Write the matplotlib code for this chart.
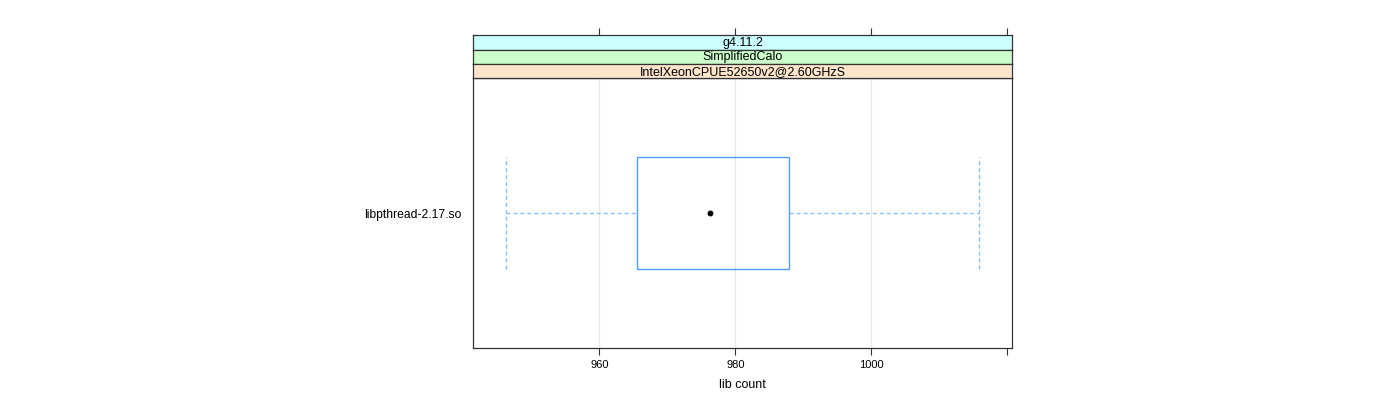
import matplotlib
matplotlib.use("Agg")
import matplotlib.pyplot as plt
from matplotlib.patches import Rectangle

plt.rcParams['font.family'] = ['Liberation Sans', 'DejaVu Sans']

categories = ["libpthread-2.17.so"]
whisker_low = [946.2]
q1 = [965.5]
median = [976.2]
q3 = [987.9]
whisker_high = [1015.8]
strips = ["g4.11.2", "SimplifiedCalo", "IntelXeonCPUE52650v2@2.60GHzS"]
strip_colors = ["#CCFFFF", "#CCFFCC", "#FFE5CC"]
xticks = [960, 980, 1000, 1020]
xticklabels = ["960", "980", "1000", ""]
xlabel = "lib count"

W, H = 1400, 400
fig = plt.figure(figsize=(14, 4), dpi=100)
L, R, T, B = 473, 1012, 78, 348
ax = fig.add_axes([L / W, 1 - B / H, (R - L) / W, (B - T) / H])
ax.set_xlim(941.4, 1020.7)
ax.set_ylim(0.4, 1.6)

box_col = "#4da0f5"
wh_col = "#8ec4f4"
hw = 0.25
for i, c in enumerate(categories):
    y = i + 1
    ax.add_patch(Rectangle((q1[i], y - hw), q3[i] - q1[i], 2 * hw, fill=False,
                           edgecolor=box_col, linewidth=1.0, zorder=3))
    ax.plot([whisker_low[i], q1[i]], [y, y], ls=(0, (3, 2)), color=wh_col, lw=1.0, zorder=2)
    ax.plot([q3[i], whisker_high[i]], [y, y], ls=(0, (3, 2)), color=wh_col, lw=1.0, zorder=2)
    ax.plot([whisker_low[i]] * 2, [y - hw, y + hw], ls=(0, (3, 2)), color=wh_col, lw=1.0, zorder=2)
    ax.plot([whisker_high[i]] * 2, [y - hw, y + hw], ls=(0, (3, 2)), color=wh_col, lw=1.0, zorder=2)
    ax.plot([median[i]], [y], 'o', color='black', markersize=3.2, zorder=4)

for xv in xticks[:3]:
    ax.axvline(xv, color="#e6e6e6", lw=0.8, zorder=1)

ax.set_yticks([i + 1 for i in range(len(categories))])
ax.set_yticklabels(categories, fontsize=8.7)
ax.set_xticks(xticks)
ax.set_xticklabels(xticklabels, fontsize=8)
ax.tick_params(axis='x', which='both', top=False, bottom=True, direction='out', length=5,
               color='#333333', pad=4)
ax.tick_params(axis='y', length=0, pad=8)
ax.set_xlabel(xlabel, fontsize=9, labelpad=6)
for s in ax.spines.values():
    s.set_color('#333333')
    s.set_linewidth(0.9)

# strips
strip_edges = [35, 49.5, 64, 78]
for k, (txt, col) in enumerate(zip(strips, strip_colors)):
    top, bot = strip_edges[k], strip_edges[k + 1]
    sax = fig.add_axes([L / W, 1 - bot / H, (R - L) / W, (bot - top) / H])
    sax.set_facecolor(col)
    sax.set_xticks([])
    sax.set_yticks([])
    for s in sax.spines.values():
        s.set_color('#333333')
        s.set_linewidth(0.9)
    sax.text(0.5, 0.45, txt, ha='center', va='center', fontsize=9, transform=sax.transAxes)

# top ticks above the strips
tax = fig.add_axes([L / W, 1 - 35 / H, (R - L) / W, 0.0001])
tax.set_xlim(ax.get_xlim())
tax.set_xticks(xticks)
tax.set_xticklabels([])
tax.set_yticks([])
tax.tick_params(axis='x', top=True, bottom=False, direction='out', length=5, color='#333333')
for s in tax.spines.values():
    s.set_visible(False)
tax.patch.set_visible(False)

fig.savefig("out.png", dpi=100)
